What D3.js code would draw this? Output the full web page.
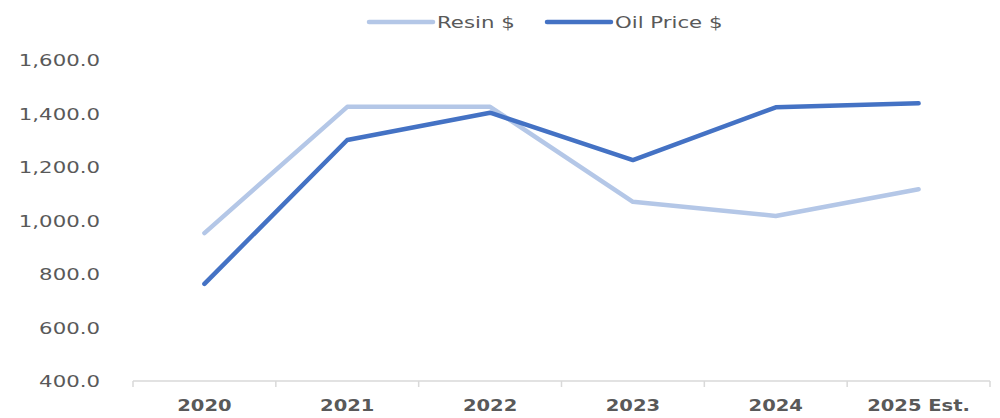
<!DOCTYPE html>
<html>
<head>
<meta charset="utf-8">
<script src="https://cdn.jsdelivr.net/npm/d3@7"></script>
<style>
  body { margin: 0; background: #fff; }
  text { font-family: "DejaVu Sans", Verdana, sans-serif; fill: #595959; }
</style>
</head>
<body>
<svg width="1000" height="418"></svg>
<script>
var years = ['2020', '2021', '2022', '2023', '2024', '2025 Est.'];
var resin = [953, 1425, 1425, 1070, 1017, 1117];
var oil = [763, 1301, 1403, 1226, 1423, 1438];
var yTicks = [400, 600, 800, 1000, 1200, 1400, 1600];

var svg = d3.select('svg');

// text in the reference is drawn wide, so stretch it sideways
var stretch = 1.33;

var xScale = d3.scaleBand().domain(years).range([133, 990]);
var yScale = d3.scaleLinear().domain([400, 1600]).range([381, 60]);

function px(d) { return xScale(d) + xScale.bandwidth() / 2; }

// x axis: baseline and category dividers
var xAxis = svg.append('g').attr('class', 'x axis');
xAxis.append('line')
    .attr('x1', 133).attr('x2', 990)
    .attr('y1', 381).attr('y2', 381)
    .attr('stroke', '#d9d9d9').attr('stroke-width', 1.5);
var edges = years.map(function(d){ return xScale(d); }).concat([990]);
xAxis.selectAll('.div').data(edges).enter().append('line')
    .attr('x1', function(d){ return d; }).attr('x2', function(d){ return d; })
    .attr('y1', 381).attr('y2', 387)
    .attr('stroke', '#d9d9d9').attr('stroke-width', 1.5);
xAxis.selectAll('text').data(years).enter().append('text')
    .attr('transform', function(d){ return 'translate(' + px(d) + ',411) scale(1.22,1)'; })
    .attr('text-anchor', 'middle')
    .style('font-size', '16px')
    .style('font-weight', 'bold')
    .text(function(d){ return d; });

// y axis labels only
svg.append('g').attr('class', 'y axis')
    .selectAll('text').data(yTicks).enter().append('text')
    .attr('transform', function(d){ return 'translate(100,' + (yScale(d) + 6) + ') scale(' + stretch + ',1)'; })
    .attr('text-anchor', 'end')
    .style('font-size', '16px')
    .text(function(d){ return d3.format(',.1f')(d); });

var line = d3.line()
    .x(function(d, i){ return px(years[i]); })
    .y(function(d){ return yScale(d); });

var series = [
    { name: 'Resin $', values: resin, color: '#b4c7e7' },
    { name: 'Oil Price $', values: oil, color: '#4472c4' }
];

svg.selectAll('.series').data(series).enter().append('path')
    .attr('class', 'series')
    .attr('d', function(d){ return line(d.values); })
    .attr('fill', 'none')
    .attr('stroke', function(d){ return d.color; })
    .attr('stroke-width', 4.5)
    .attr('stroke-linecap', 'round')
    .attr('stroke-linejoin', 'round');

// legend
var legendX = [369, 547];
var legend = svg.selectAll('.legend').data(series).enter().append('g')
    .attr('class', 'legend')
    .attr('transform', function(d, i){ return 'translate(' + legendX[i] + ',22)'; });
legend.append('line')
    .attr('x1', 0).attr('x2', 64)
    .attr('stroke', function(d){ return d.color; })
    .attr('stroke-width', 4.5)
    .attr('stroke-linecap', 'round');
legend.append('text')
    .attr('transform', 'translate(68,6) scale(' + stretch + ',1)')
    .style('font-size', '16px')
    .text(function(d){ return d.name; });
</script>
</body>
</html>
